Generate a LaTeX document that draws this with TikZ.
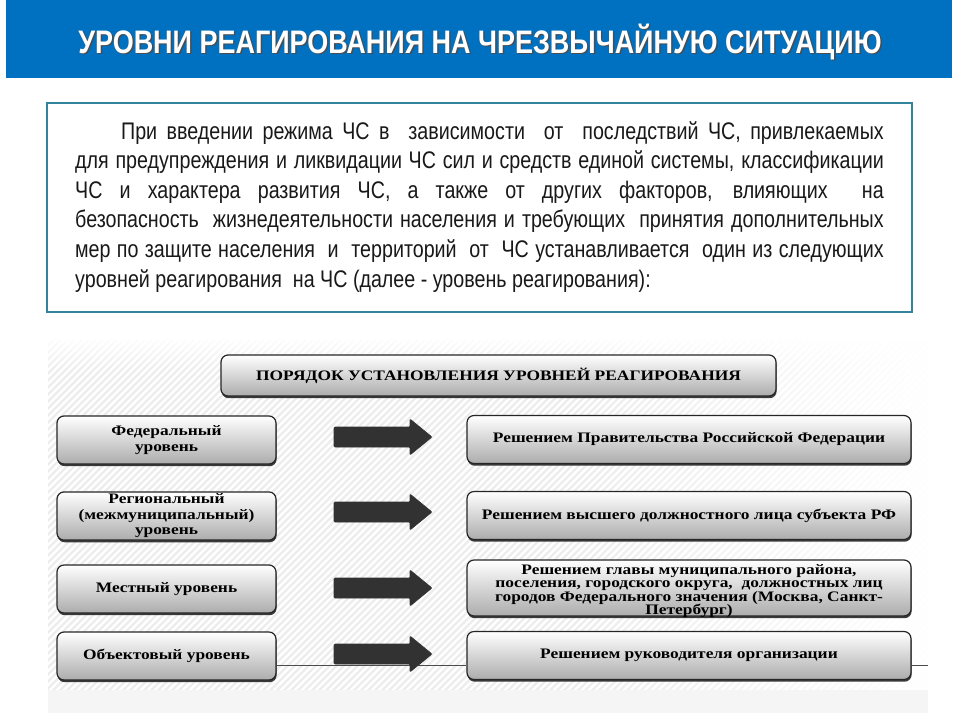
\documentclass[tikz,border=0pt]{standalone}
\usepackage{fontspec}
\setmainfont{Liberation Serif}
\newfontfamily\sansf{Liberation Sans}
\usetikzlibrary{shadows,fadings}
\definecolor{titleblue}{RGB}{0,112,192}
\definecolor{frameteal}{RGB}{49,132,155}
\definecolor{arrowc}{RGB}{50,50,50}
\definecolor{txt}{RGB}{25,25,25}
\tikzset{
  lvl/.style={draw=black!85, line width=1.2pt, rounded corners=7pt,
    top color=white, middle color=gray!6, bottom color=gray!65,
    minimum height=48pt, align=center, inner sep=2pt,
    font=\bfseries\fontsize{14.5}{15.5}\selectfont, text=black,
    drop shadow={shadow xshift=0.6pt, shadow yshift=-2.2pt, fill=black!85, opacity=0.9}},
  lbox/.style={lvl, minimum width=219pt},
  rbox/.style={lvl, minimum width=444pt},
  hdr/.style={lvl, minimum width=555pt, minimum height=41pt},
  boxtext/.style={align=center, inner sep=0pt, font=\bfseries\fontsize{14.5}{13.6}\selectfont, text=black},
  rowline/.style={line width=0.6pt, black!70},
  blockarrow/.style={fill=arrowc, draw=black!80, line width=0.6pt, rounded corners=1pt}
}
\newcommand{\bx}[1]{\scalebox{1.2}[1]{#1}}
\begin{document}
\begin{tikzpicture}[x=1pt,y=-1pt]
\useasboundingbox (0,0) rectangle (960,720);
\fill[white] (0,0) rectangle (960,720);
% title bar
\fill[titleblue] (6,0) rectangle (952,78);
\node[text=black!70, font=\sansf\bfseries\fontsize{31}{32}\selectfont] at (481.5,43.5) {\scalebox{0.87}[1.05]{УРОВНИ РЕАГИРОВАНИЯ НА ЧРЕЗВЫЧАЙНУЮ СИТУАЦИЮ}};
\node[text=white, font=\sansf\bfseries\fontsize{31}{32}\selectfont] (title) at (480,42) {\scalebox{0.87}[1.05]{УРОВНИ РЕАГИРОВАНИЯ НА ЧРЕЗВЫЧАЙНУЮ СИТУАЦИЮ}};
% text frame
\draw[frameteal, line width=1.5pt] (47,103) rectangle (912,312);
\node[anchor=north west, inner sep=0pt, text=txt, font=\sansf\fontsize{24}{29.6}\selectfont] (para) at (75,121)
 {\scalebox{0.82}[1]{\parbox{986pt}{\setlength{\parindent}{56pt}При введении режима ЧС в\ \ зависимости\ \ от\ \ последствий ЧС, привлекаемых\linebreak
 для предупреждения и ликвидации ЧС сил и средств единой системы, классификации\linebreak
 ЧС и характера развития ЧС, а также от других факторов, влияющих\ \ на\linebreak
 безопасность\ \ жизнедеятельности населения и требующих\ \ принятия дополнительных\linebreak
 мер по защите населения\ \ и\ \ территорий\ \ от\ \ ЧС устанавливается\ \ один из следующих\linebreak
 уровней реагирования\ \ на ЧС (далее - уровень реагирования):}}};
% lower panel background
\begin{scope}
\clip (48,340) rectangle (928,713);
\fill[gray!14] (48,340) rectangle (928,713);
\foreach \i in {0,7,...,1300} {
  \draw[white, line width=2.2pt] (\i-400,713) -- (\i,313);
}
\fill[white, path fading=west] (560,340) rectangle (929,713);
\fill[white, path fading=south, opacity=0.9] (48,339) rectangle (929,372);
\fill[gray!8] (48,690) rectangle (928,713);
\end{scope}
% header
\node[hdr] (hdr) at (498.5,375.5) {\bx{ПОРЯДОК УСТАНОВЛЕНИЯ УРОВНЕЙ РЕАГИРОВАНИЯ}};
% left boxes
\node[lbox] (l1) at (166.5,440) {\bx{Федеральный}\\\bx{уровень}};
\node[lbox] (l2) at (166.5,516) {\bx{Региональный}\\\bx{(межмуниципальный)}\\\bx{уровень}};
\node[lbox] (l3) at (166.5,589) {\bx{Местный уровень}};
\node[lbox] (l4) at (166.5,656) {\bx{Объектовый уровень}};
% right boxes
\node[rbox] (r1) at (689,439.5) {\bx{Решением Правительства Российской Федерации}};
\node[rbox] (r2) at (689,515.5) {\bx{Решением высшего должностного лица субъекта РФ}};
\node[rbox, minimum height=56pt] (r3) at (689,588) {};
\node[boxtext] (r3t) at (689,591) {\bx{Решением главы муниципального района,}\\\bx{поселения, городского округа,\ \ должностных лиц}\\\bx{городов Федерального значения (Москва, Санкт-}\\\bx{Петербург)}};
\node[rbox] (r4) at (689,655.5) {\bx{Решением руководителя организации}};
% row line
\coordinate (rl) at (0,665);
\coordinate (rend) at (928,665);
\draw[rowline] (l4.east |- rl) -- (r4.west |- rl);
\draw[rowline] (r4.east |- rl) -- (rend);
% block arrows
\foreach \n/\yy in {1/437,2/512,3/588,4/654} {
  \begin{scope}[shift={(383,\yy)}]
  \fill[blockarrow] (-49,-10) -- (27,-10) -- (27,-18) -- (49,0) -- (27,18) -- (27,10) -- (-49,10) -- cycle;
  \end{scope}
}
\end{tikzpicture}
\end{document}
